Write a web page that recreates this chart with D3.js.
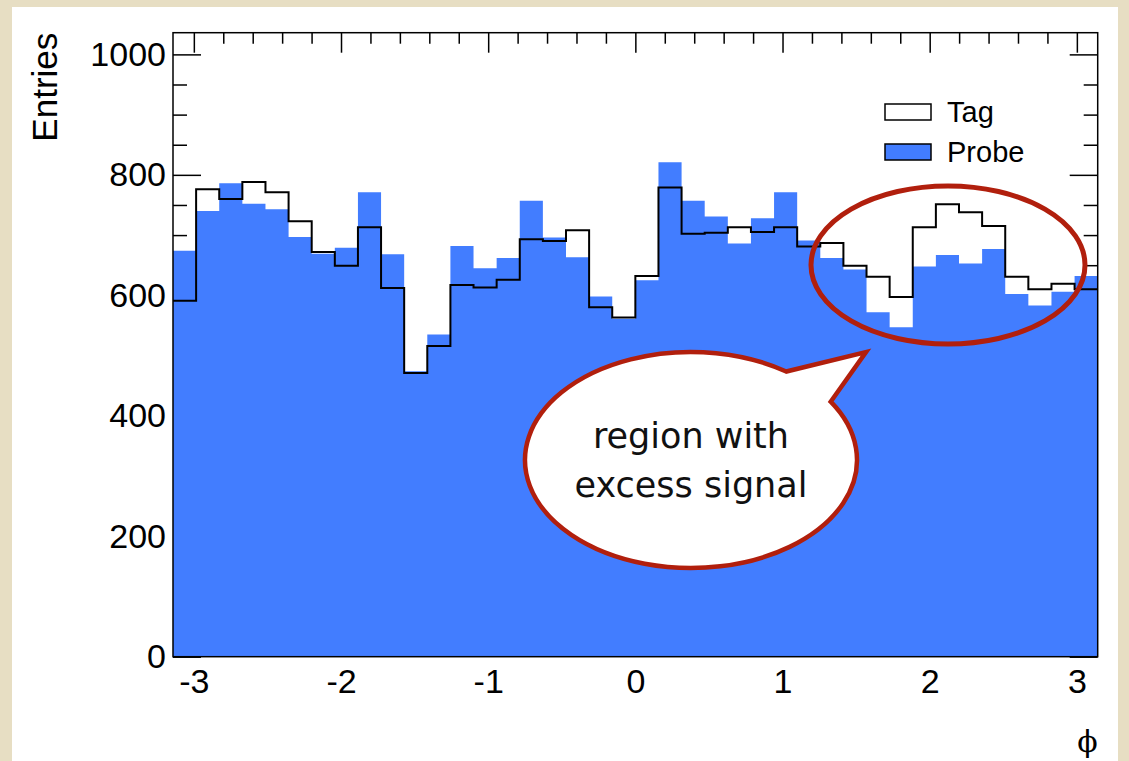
<!DOCTYPE html>
<html>
<head>
<meta charset="utf-8">
<script src="https://cdn.jsdelivr.net/npm/d3@7"></script>
<style>
  html, body { margin: 0; padding: 0; background: #e7dec3; }
  svg { display: block; }
</style>
</head>
<body>
<svg id="chart" width="1129" height="761"></svg>
<script>
// Azimuthal distribution of tag and probe objects, 40 bins in [-pi, pi]
const nBins = 40;
const tagCounts = [591, 776, 760, 788, 771, 723, 672, 649, 713, 612,
                   471, 516, 617, 613, 626, 693, 690, 708, 580, 563,
                   632, 779, 702, 704, 713, 705, 713, 681, 687, 649,
                   631, 597, 713, 751, 738, 715, 631, 610, 619, 610];
const probeCounts = [674, 740, 786, 752, 743, 697, 669, 679, 771, 668,
                     474, 535, 682, 645, 662, 757, 696, 663, 598, 561,
                     625, 821, 757, 731, 686, 728, 771, 691, 662, 643,
                     572, 547, 648, 667, 653, 677, 602, 583, 606, 632];
const xTicks = [-3, -2, -1, 0, 1, 2, 3];
const yTicks = [0, 200, 400, 600, 800, 1000];
const seriesNames = ["Tag", "Probe"];
const yMax = 1036;

const svg = d3.select("#chart");
const probeColor = "#427dff";
const markRed = "#b11f0d";

// page panel
svg.append("rect").attr("x", 12).attr("y", 7).attr("width", 1106).attr("height", 760)
  .attr("fill", "#ffffff");

const frameL = 173, frameR = 1097.7, frameT = 32.7, frameB = 656.7;
const x = d3.scaleLinear().domain([-Math.PI, Math.PI]).range([frameL, frameR]);
const y = d3.scaleLinear().domain([0, yMax]).range([frameB, frameT]);

const edges = d3.range(nBins + 1).map(i => -Math.PI + i * 2 * Math.PI / nBins);
const minorX = d3.range(-32, 33, 2).map(v => v / 10)
  .filter(v => v > -Math.PI && v < Math.PI && Math.abs(v - Math.round(v)) > 1e-6);
const minorY = d3.range(50, yMax, 50).filter(v => v % 200 !== 0);

function styleAxis(g) {
  g.select(".domain").remove();
  g.selectAll(".tick line").attr("stroke", "#000").attr("stroke-width", 1.5);
  g.selectAll("text").attr("fill", "#000")
    .style("font-family", "'Liberation Sans', Arial, sans-serif").style("font-size", "34px");
}

// axes (ticks point into the frame, ROOT style)
svg.append("g").attr("transform", `translate(${frameL},0)`)
  .call(d3.axisLeft(y).tickValues(yTicks).tickSize(-28).tickPadding(7).tickFormat(d => String(d)))
  .call(styleAxis);
svg.append("g").attr("transform", `translate(${frameL},0)`)
  .call(d3.axisLeft(y).tickValues(minorY).tickSize(-14).tickFormat(""))
  .call(styleAxis);
svg.append("g").attr("transform", `translate(${frameR},0)`)
  .call(d3.axisRight(y).tickValues(yTicks).tickSize(-28).tickFormat(""))
  .call(styleAxis);
svg.append("g").attr("transform", `translate(${frameR},0)`)
  .call(d3.axisRight(y).tickValues(minorY).tickSize(-14).tickFormat(""))
  .call(styleAxis);
svg.append("g").attr("transform", `translate(0,${frameT})`)
  .call(d3.axisTop(x).tickValues(xTicks).tickSize(-20).tickFormat(""))
  .call(styleAxis);
svg.append("g").attr("transform", `translate(0,${frameT})`)
  .call(d3.axisTop(x).tickValues(minorX).tickSize(-11).tickFormat(""))
  .call(styleAxis);
svg.append("g").attr("transform", `translate(0,${frameB})`)
  .call(d3.axisBottom(x).tickValues(xTicks).tickSize(-20).tickPadding(12).tickFormat(d => String(d)))
  .call(styleAxis);
svg.append("g").attr("transform", `translate(0,${frameB})`)
  .call(d3.axisBottom(x).tickValues(minorX).tickSize(-11).tickFormat(""))
  .call(styleAxis);

// probe histogram (filled)
const probePts = edges.map((e, i) => [e, probeCounts[Math.min(i, nBins - 1)]]);
svg.append("path")
  .attr("d", d3.area().curve(d3.curveStepAfter)
    .x(d => x(d[0])).y0(y(0)).y1(d => y(d[1]))(probePts))
  .attr("fill", probeColor);

// tag histogram (outline)
const tagPts = edges.map((e, i) => [e, tagCounts[Math.min(i, nBins - 1)]]);
svg.append("path")
  .attr("d", d3.line().curve(d3.curveStepAfter).x(d => x(d[0])).y(d => y(d[1]))(tagPts))
  .attr("fill", "none").attr("stroke", "#000").attr("stroke-width", 2);

// frame
svg.append("rect").attr("x", frameL).attr("y", frameT)
  .attr("width", frameR - frameL).attr("height", frameB - frameT)
  .attr("fill", "none").attr("stroke", "#000").attr("stroke-width", 1.5);

// axis titles
svg.append("text")
  .attr("transform", `translate(57,${frameT}) rotate(-90)`)
  .attr("text-anchor", "end")
  .style("font-family", "'Liberation Sans', Arial, sans-serif").style("font-size", "35px")
  .text("Entries");
svg.append("text")
  .attr("x", frameR).attr("y", 752).attr("text-anchor", "end")
  .style("font-family", "'DejaVu Serif', 'Liberation Serif', serif").style("font-size", "30px")
  .text("\u03D5");

// legend
const legend = svg.append("g").style("font-family", "'Liberation Sans', Arial, sans-serif")
  .style("font-size", "29px");
const legFills = ["#ffffff", probeColor];
seriesNames.forEach((name, i) => {
  const ly = 112 + i * 40;
  legend.append("rect").attr("x", 885).attr("y", ly - 8).attr("width", 46).attr("height", 16)
    .attr("fill", legFills[i]).attr("stroke", "#000").attr("stroke-width", 1.5);
  legend.append("text").attr("x", 947).attr("y", ly).attr("dy", "0.35em").text(name);
});

// highlight ring around the excess
svg.append("ellipse").attr("cx", 948).attr("cy", 265).attr("rx", 137).attr("ry", 79)
  .attr("fill", "none").attr("stroke", markRed).attr("stroke-width", 5);

// callout bubble
const bcx = 691, bcy = 460, brx = 166, bry = 108;
const a1 = -32.7 * Math.PI / 180, a2 = -55 * Math.PI / 180;
const p1 = [bcx + brx * Math.cos(a1), bcy + bry * Math.sin(a1)];
const p2 = [bcx + brx * Math.cos(a2), bcy + bry * Math.sin(a2)];
const tip = [866, 352];
svg.append("path")
  .attr("d", `M${p1[0]},${p1[1]} A${brx},${bry} 0 1 1 ${p2[0]},${p2[1]} L${tip[0]},${tip[1]} Z`)
  .attr("fill", "#ffffff").attr("stroke", markRed).attr("stroke-width", 4.5)
  .attr("stroke-linejoin", "miter");
const bubble = svg.append("text").attr("text-anchor", "middle")
  .style("font-family", "'DejaVu Sans', sans-serif").style("font-size", "35px").attr("fill", "#111");
bubble.append("tspan").attr("x", bcx).attr("y", 448).text("region with");
bubble.append("tspan").attr("x", bcx).attr("y", 497).text("excess signal");
</script>
</body>
</html>
